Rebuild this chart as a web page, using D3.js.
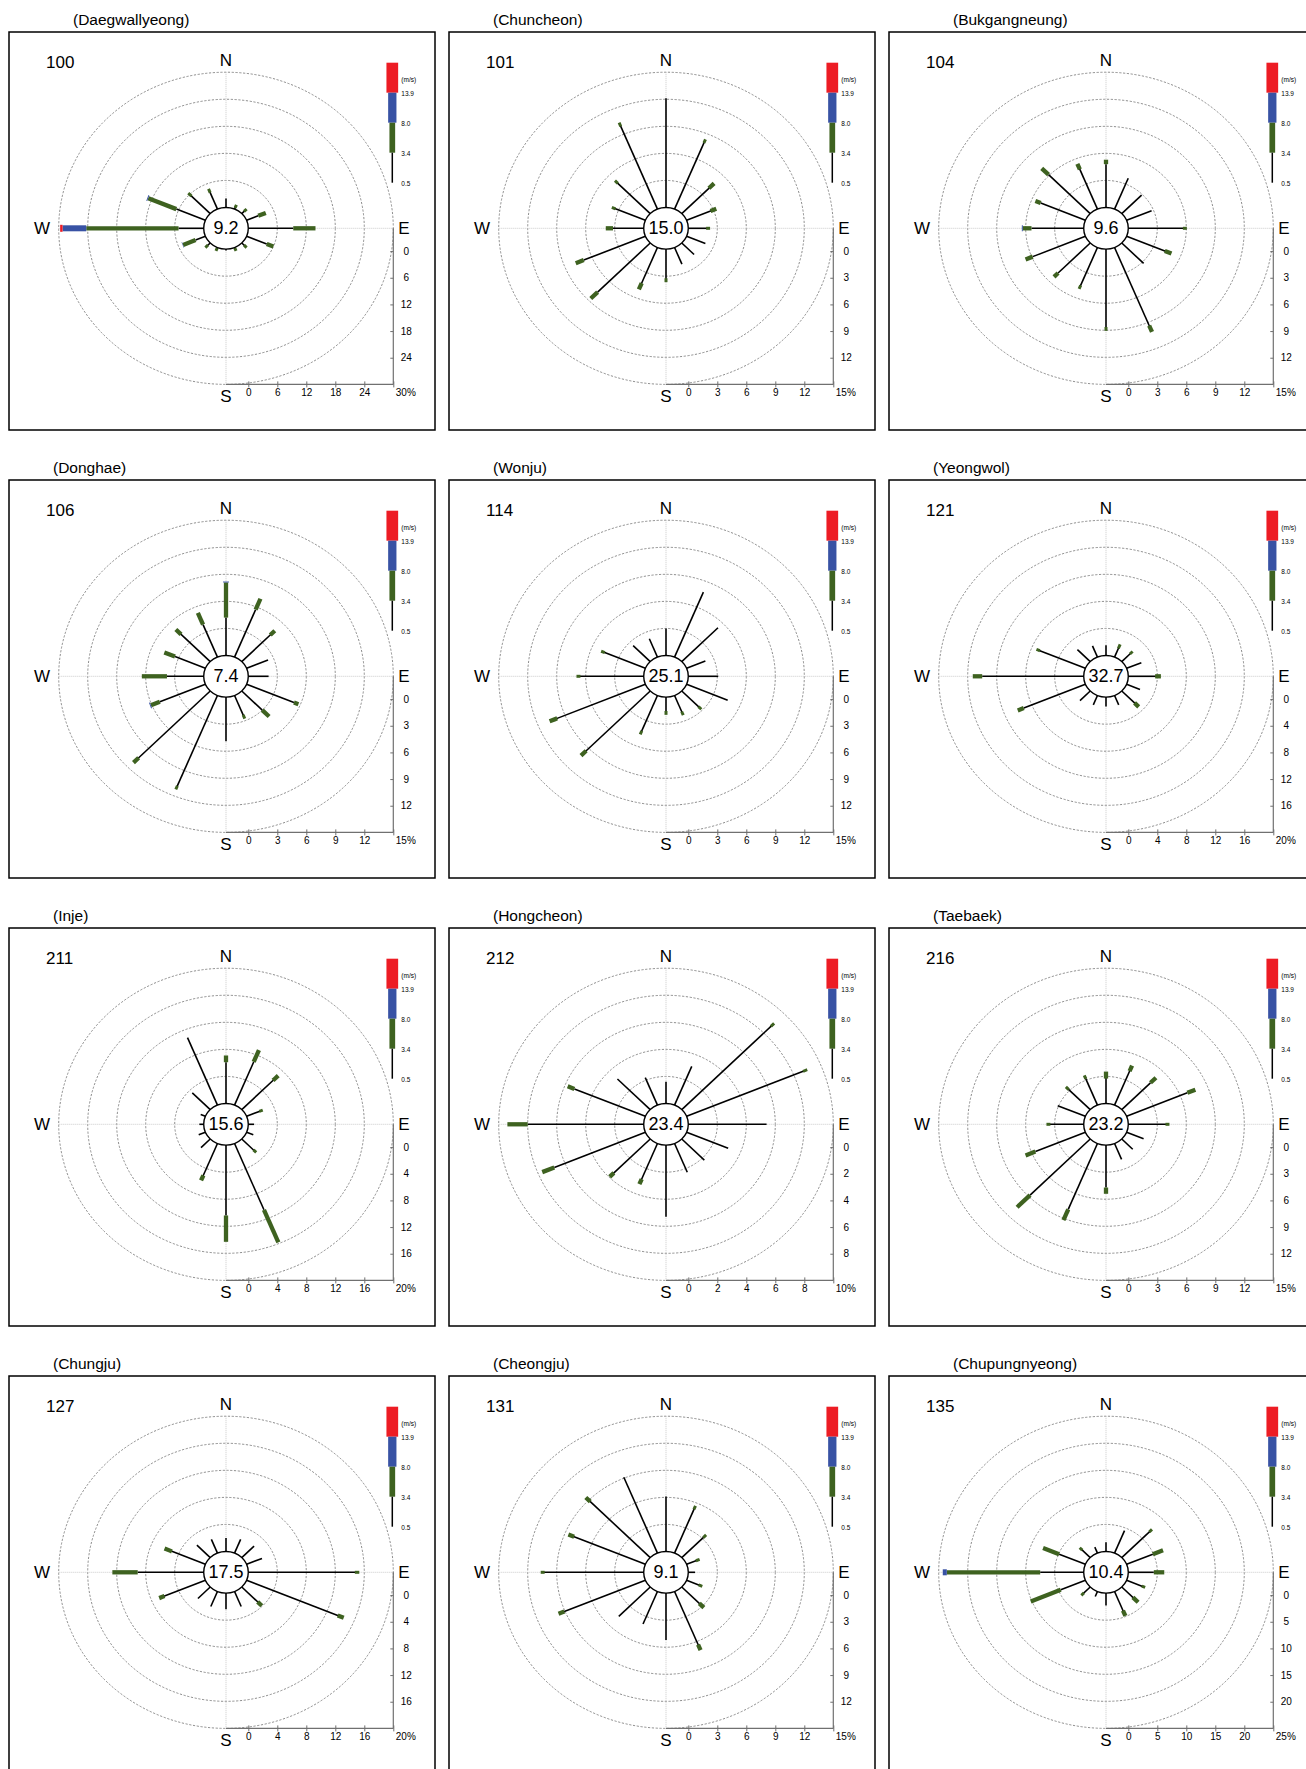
<!DOCTYPE html>
<html><head><meta charset="utf-8">
<script src="https://cdn.jsdelivr.net/npm/d3@7"></script>
<style>
body{margin:0;background:#fff}
svg{display:block}
text{font-family:"Liberation Sans",Arial,Helvetica,sans-serif;fill:#000}
</style>
</head><body>
<svg id="chart" width="1306" height="1769"></svg>
<script>
// ---------------- data ----------------
const stationIds   = ["100","101","104","106","114","121","211","212","216","127","131","135"];
const stationNames = ["(Daegwallyeong)","(Chuncheon)","(Bukgangneung)","(Donghae)","(Wonju)","(Yeongwol)",
                      "(Inje)","(Hongcheon)","(Taebaek)","(Chungju)","(Cheongju)","(Chupungnyeong)"];
const calmValues   = [9.2, 15.0, 9.6, 7.4, 25.1, 32.7, 15.6, 23.4, 23.2, 17.5, 9.1, 10.4];
const scaleMax     = [30, 15, 15, 15, 15, 20, 20, 10, 15, 20, 15, 25];
const directions   = ["N","NNE","NE","ENE","E","ESE","SE","SSE","S","SSW","SW","WSW","W","WNW","NW","NNW"];
const speedClasses = ["0.5-3.4","3.4-8.0","8.0-13.9",">13.9"];
const legendLabels = ["(m/s)","13.9","8.0","3.4","0.5"];

// frequency (%) per direction: [0.5-3.4, 3.4-8.0, 8.0-13.9, >13.9]
const freq100 = [[2.0,0,0,0],[0.6,0.1,0,0],[1.0,0.1,0,0],[2.6,1.7,0,0],[9.3,4.6,0,0],[4.5,1.5,0,0],[1.0,0.1,0,0],[0.4,0.1,0,0],
                 [0.3,0,0,0],[0.4,0.1,0,0],[1.0,0.1,0,0],[2.2,2.8,0.1,0],[5.2,19.1,4.9,0.5],[6.5,6.3,0.2,0],[5.8,0.3,0,0],[4.3,0.2,0,0]];
const freq101 = [[12.1,0,0,0],[8.1,0.1,0,0],[4.2,0.3,0,0],[2.9,0.2,0,0],[2.0,0.1,0,0],[2.1,0,0,0],[1.8,0,0,0],[2.0,0,0,0],
                 [3.4,0.1,0,0],[4.5,0.3,0,0],[7.7,1.0,0,0],[6.9,0.9,0,0],[3.4,0.3,0,0],[3.5,0.1,0,0],[4.9,0.1,0,0],[10.1,0.1,0,0]];
const freq104 = [[4.8,0.5,0,0],[3.7,0,0,0],[2.9,0,0,0],[2.8,0,0,0],[5.8,0.1,0,0],[4.5,0.3,0,0],[3.2,0,0,0],[9.6,0.3,0,0],
                 [8.8,0.1,0,0],[4.7,0.1,0,0],[4.7,0.6,0,0],[5.9,0.8,0,0],[5.4,0.9,0.1,0],[5.0,0.6,0,0],[6.1,1.0,0,0],[5.0,0.2,0,0]];
const freq106 = [[4.2,3.9,0.1,0],[5.7,1.3,0,0],[4.4,0.2,0,0],[2.4,0,0,0],[2.1,0,0,0],[5.3,0.5,0,0],[3.0,1.0,0,0],[2.5,0.1,0,0],
                 [4.9,0,0,0],[11.0,0.1,0,0],[10.7,0.3,0,0],[5.1,1.0,0.1,0],[3.8,2.6,0,0],[3.4,1.2,0,0],[4.5,0.3,0,0],[3.9,1.4,0,0]];
const freq114 = [[3.0,0,0,0],[7.8,0,0,0],[5.3,0,0,0],[2.1,0,0,0],[3.1,0,0,0],[4.6,0,0,0],[2.6,0.1,0,0],[2.1,0.1,0,0],
                 [1.7,0.1,0,0],[4.4,0.1,0,0],[9.6,0.3,0,0],[10.1,0.4,0,0],[6.7,0.1,0,0],[4.7,0.1,0,0],[2.5,0,0,0],[2.2,0,0,0]];
const freq121 = [[1.5,0,0,0],[1.6,0.2,0,0],[1.8,0.1,0,0],[2.2,0,0,0],[4.0,0.2,0,0],[2.0,0,0,0],[2.8,0.2,0,0],[1.5,0,0,0],
                 [1.4,0,0,0],[1.5,0,0,0],[2.0,0,0,0],[9.2,0.9,0,0],[14.0,1.3,0,0],[7.0,0.1,0,0],[2.5,0,0,0],[1.8,0,0,0]];
const freq211 = [[6.1,1.0,0,0],[6.9,1.9,0,0],[6.4,0.4,0,0],[2.1,0.1,0,0],[0.8,0,0,0],[1.0,0,0,0],[2.5,0.1,0,0],[10.6,5.2,0,0],
                 [10.4,3.9,0,0],[5.4,0.2,0,0],[1.8,0,0,0],[1.0,0,0,0],[0.6,0,0,0],[0.7,0,0,0],[3.5,0,0,0],[10.8,0,0,0]];
const freq212 = [[1.6,0,0,0],[3.1,0,0,0],[8.8,0.1,0,0],[8.8,0.1,0,0],[5.4,0,0,0],[3.1,0,0,0],[2.2,0,0,0],[2.3,0,0,0],
                 [5.3,0,0,0],[3.0,0.1,0,0],[3.7,0.1,0,0],[6.8,0.9,0,0],[8.0,1.4,0,0],[5.3,0.5,0,0],[3.2,0,0,0],[2.2,0,0,0]];
const freq216 = [[3.0,0.3,0,0],[4.3,0.2,0,0],[4.2,0.8,0,0],[6.8,0.9,0,0],[4.0,0.1,0,0],[1.9,0,0,0],[1.6,0,0,0],[1.9,0,0,0],
                 [4.7,0.7,0,0],[7.9,1.3,0,0],[8.8,1.9,0,0],[5.6,1.1,0,0],[3.6,0.1,0,0],[3.1,0,0,0],[3.3,0.1,0,0],[3.3,0.1,0,0]];
const freq127 = [[2.0,0,0,0],[2.2,0,0,0],[2.4,0,0,0],[2.3,0,0,0],[14.9,0.2,0,0],[13.9,0.3,0,0],[3.4,0.2,0,0],[2.4,0,0,0],
                 [2.4,0,0,0],[2.4,0,0,0],[2.4,0,0,0],[6.4,0.2,0,0],[9.1,3.5,0,0],[5.3,0.5,0,0],[2.6,0,0,0],[2.2,0,0,0]];
const freq131 = [[6.1,0,0,0],[5.4,0.1,0,0],[3.3,0.1,0,0],[1.2,0.1,0,0],[0.7,0,0,0],[1.5,0.1,0,0],[2.8,0.2,0,0],[6.6,0.2,0,0],
                 [5.2,0,0,0],[3.9,0,0,0],[4.6,0,0,0],[9.3,0.2,0,0],[10.4,0.1,0,0],[8.2,0.2,0,0],[9.0,0.2,0,0],[9.1,0,0,0]];
const freq135 = [[1.7,0,0,0],[4.5,0,0,0],[7.0,0.1,0,0],[4.9,1.9,0,0],[4.4,1.8,0,0],[3.1,0.1,0,0],[3.1,0.5,0,0],[4.2,0.3,0,0],
                 [2.3,0,0,0],[1.0,0,0,0],[1.8,0.1,0,0],[4.6,5.6,0,0],[7.5,16.1,0.7,0],[4.9,3.0,0,0],[2.2,0.1,0,0],[1.2,0,0,0]];
const stationFreqs = [freq100,freq101,freq104,freq106,freq114,freq121,freq211,freq212,freq216,freq127,freq131,freq135];

// ---------------- style / layout ----------------
const classColors = ["#000000","#3e6220","#3852a4","#ed1c24"];
const classWidths = [1.6, 4.3, 6, 7];
const classCaps   = ["butt","square","butt","butt"];
const PW = 426, PH = 398, COLSTEP = 440, ROWSTEP = 448, X0 = 9, Y0 = 32;
const CX = 217, CY = 196.3, R0 = 22.3, RING = 29, SY = 0.933;

const svg = d3.select("#chart");

stationIds.forEach((id, idx) => {
  const col = idx % 3, row = Math.floor(idx / 3);
  const g = svg.append("g").attr("transform", `translate(${X0 + col*COLSTEP},${Y0 + row*ROWSTEP})`);
  const max = scaleMax[idx], step = max / 5;
  const rScale = d3.scaleLinear().domain([0, max]).range([R0, R0 + 5*RING]);
  const R5 = rScale(max);
  const pt = (deg, r) => {
    const a = deg * Math.PI / 180;
    return [CX + r*Math.sin(a), CY - r*Math.cos(a)*SY];
  };

  // frame
  g.append("rect").attr("x",0).attr("y",0).attr("width",PW).attr("height",PH)
    .attr("fill","none").attr("stroke","#000").attr("stroke-width",1.5);

  // title and station number
  const name = stationNames[idx];
  g.append("text").attr("x", name.length >= 14 ? 64 : 44).attr("y", -7)
    .attr("font-size", 15.5).text(name);
  g.append("text").attr("x", 37).attr("y", 36).attr("font-size", 17).text(id);

  // rings
  const ringVals = d3.range(1, 6).map(k => k*step);
  g.selectAll("ellipse.ring").data(ringVals).enter().append("ellipse")
    .attr("cx", CX).attr("cy", CY)
    .attr("rx", d => rScale(d)).attr("ry", d => rScale(d)*SY)
    .attr("fill","none").attr("stroke","#6a6a6a").attr("stroke-width",0.75)
    .attr("stroke-dasharray","2.2,1.6");

  // cross hair
  g.append("line").attr("x1",CX).attr("x2",CX).attr("y1",CY - R5*SY).attr("y2",CY + R5*SY)
    .attr("stroke","#bdbdbd").attr("stroke-width",0.8).attr("stroke-dasharray","1,1");
  g.append("line").attr("x1",CX - R5).attr("x2",CX + R5).attr("y1",CY).attr("y2",CY)
    .attr("stroke","#bdbdbd").attr("stroke-width",0.8).attr("stroke-dasharray","1,1");

  // spokes
  const freqs = stationFreqs[idx];
  const segs = [];
  freqs.forEach((f, di) => {
    let cum = 0;
    f.forEach((v, ci) => {
      if (v > 0) segs.push({deg: di*22.5, from: cum, to: cum + v, cls: ci});
      cum += v;
    });
  });
  g.selectAll("line.seg").data(segs).enter().append("line")
    .attr("x1", d => pt(d.deg, rScale(d.from))[0])
    .attr("y1", d => pt(d.deg, rScale(d.from))[1])
    .attr("x2", d => pt(d.deg, rScale(d.to))[0])
    .attr("y2", d => pt(d.deg, rScale(d.to))[1])
    .attr("stroke", d => classColors[d.cls])
    .attr("stroke-width", d => d.cls === 1 && (d.to - d.from) < step*0.05 ? 3 : classWidths[d.cls])
    .attr("stroke-linecap", d => d.cls === 1 && (d.to - d.from) < step*0.15 ? "square" : "butt");

  // calm circle
  g.append("ellipse").attr("cx",CX).attr("cy",CY).attr("rx",R0).attr("ry",R0*SY)
    .attr("fill","#fff").attr("stroke","#000").attr("stroke-width",1.4);
  g.append("text").attr("x",CX).attr("y",CY).attr("text-anchor","middle")
    .attr("dominant-baseline","central").attr("font-size",18).text(calmValues[idx].toFixed(1));

  // compass labels
  g.append("text").attr("x",CX).attr("y",CY - R5*SY - 6).attr("text-anchor","middle").attr("font-size",17).text("N");
  g.append("text").attr("x",CX).attr("y",CY + R5*SY + 17.5).attr("text-anchor","middle").attr("font-size",17).text("S");
  g.append("text").attr("x",CX - 184).attr("y",CY).attr("text-anchor","middle").attr("dominant-baseline","central").attr("font-size",17).text("W");
  g.append("text").attr("x",CX + 178).attr("y",CY).attr("text-anchor","middle").attr("dominant-baseline","central").attr("font-size",17).text("E");

  // horizontal axis
  const axY = CY + R5*SY;
  const tv = d3.range(0, max + step/2, step);
  g.append("line").attr("x1",CX).attr("x2",CX + R5).attr("y1",axY).attr("y2",axY)
    .attr("stroke","#707070").attr("stroke-width",1.2);
  const hx = d3.scaleLinear().domain([0,max]).range([CX + R0, CX + R5]);
  const hAxis = g.append("g").attr("transform",`translate(0,${axY})`)
    .call(d3.axisBottom(hx).tickValues(tv).tickSize(3).tickPadding(2)
      .tickFormat(d => d === max ? d + "%" : d));
  hAxis.select(".domain").remove();
  hAxis.selectAll(".tick line").attr("y1",-3).attr("stroke","#707070");
  hAxis.selectAll(".tick text").attr("font-size",10).attr("font-family",null)
    .filter(d => d === max).attr("text-anchor","start").attr("x",2);

  // vertical axis
  const axX = CX + R5;
  g.append("line").attr("x1",axX).attr("x2",axX).attr("y1",CY).attr("y2",axY)
    .attr("stroke","#707070").attr("stroke-width",1.2);
  const vy = d3.scaleLinear().domain([0,max]).range([CY + R0*SY + 2, axY]);
  const vAxis = g.append("g").attr("transform",`translate(${axX},0)`)
    .call(d3.axisRight(vy).tickValues(tv.slice(0, -1)).tickSize(3).tickPadding(2));
  vAxis.select(".domain").remove();
  vAxis.selectAll(".tick line").attr("x2",-3).attr("stroke","#707070");
  vAxis.selectAll(".tick text").attr("font-size",10).attr("font-family",null)
    .attr("text-anchor","middle").attr("x",13);

  // legend
  const lx = 383.3, ly = 30.7, lh = 30;
  const legendWidths = [11.7, 8.3, 5.7, 1.5];
  const legendColors = [classColors[3], classColors[2], classColors[1], classColors[0]];
  legendColors.forEach((c, i) => {
    g.append("rect").attr("x", lx - legendWidths[i]/2).attr("y", ly + i*lh)
      .attr("width", legendWidths[i]).attr("height", lh).attr("fill", c);
  });
  legendLabels.forEach((t, i) => {
    g.append("text").attr("x", lx + 9).attr("y", i === 0 ? ly + 17 : ly + i*lh + 0.6)
      .attr("dominant-baseline","central").attr("font-size",6.5).attr("fill","#222").text(t);
  });
});
</script>
</body></html>
